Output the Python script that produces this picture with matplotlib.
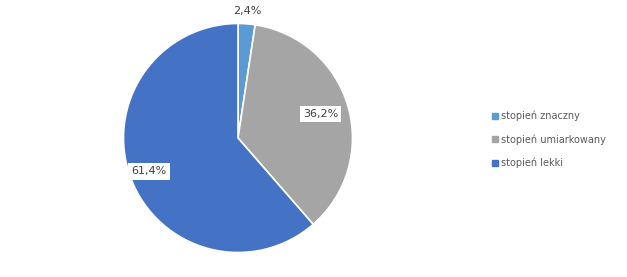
import matplotlib.pyplot as plt
import numpy as np
from matplotlib.lines import Line2D

# data
categories = ['stopień znaczny', 'stopień umiarkowany', 'stopień lekki']
values = [2.4, 36.2, 61.4]
labels = ['2,4%', '36,2%', '61,4%']
colors = ['#5B9BD5', '#A5A5A5', '#4472C4']

fig = plt.figure(figsize=(6.27, 2.77), dpi=100)
ax = fig.add_axes([0, 0, 1, 1])

cx, cy, r = 238, 139, 114.5   # y measured upward
wedges, _ = ax.pie(values, colors=colors, startangle=90, counterclock=False,
                   center=(cx, cy), radius=r, frame=True,
                   wedgeprops=dict(edgecolor='white', linewidth=1.2))
ax.set_xlim(0, 627)
ax.set_ylim(0, 277)
ax.set_aspect('equal')
ax.axis('off')

# label radial distances (fraction of radius)
dists = [1.11, 0.75, 0.83]
for w, lab, d in zip(wedges, labels, dists):
    ang = np.deg2rad((w.theta1 + w.theta2) / 2)
    x = cx + d * r * np.cos(ang)
    y = cy + d * r * np.sin(ang)
    box = None if d > 1 else dict(boxstyle='square,pad=0.3', fc='white', ec='none')
    ax.text(x, y, lab, ha='center', va='center', fontsize=8, color='#404040',
            bbox=box)

handles = [Line2D([0], [0], marker='s', linestyle='none', markersize=4.5,
                  markerfacecolor=c, markeredgecolor=c) for c in colors]
fig.legend(handles, categories, loc='center left', bbox_to_anchor=(0.768, 0.497),
           frameon=False, fontsize=7, handletextpad=0.1, labelspacing=1.35,
           handlelength=1.0, labelcolor='#595959')

fig.savefig('out.png', dpi=100)
